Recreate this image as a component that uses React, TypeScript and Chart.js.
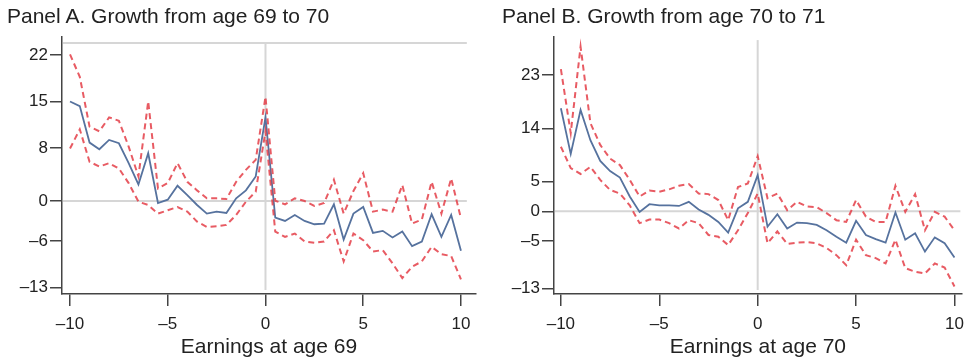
import React, { useEffect, useRef } from "react";
import { Chart, registerables } from "chart.js";

Chart.register(...registerables);

const FONT = "'Liberation Sans', Helvetica, Arial, sans-serif";

// Bin positions (earnings relative to threshold)
const xBins = [
  -10, -9.5, -9, -8.5, -8, -7.5, -7, -6.5, -6, -5.5, -5, -4.5, -4, -3.5, -3, -2.5, -2, -1.5, -1, -0.5,
  0, 0.5, 1, 1.5, 2, 2.5, 3, 3.5, 4, 4.5, 5, 5.5, 6, 6.5, 7, 7.5, 8, 8.5, 9, 9.5, 10,
];

// Panel A: growth from age 69 to 70
const estA = [
  15.0, 14.3, 8.8, 7.8, 9.2, 8.7, 5.7, 2.5, 7.2, -0.3, 0.2, 2.3, 0.9, -0.6, -1.9, -1.6, -1.8, 0.4, 1.6, 3.7,
  12.6, -2.5, -3.0, -2.1, -3.0, -3.5, -3.4, -0.5, -5.8, -1.9, -0.9, -4.8, -4.5, -5.5, -4.6, -6.8, -6.1, -2.0, -5.4, -2.1, -7.5,
];
const upperA = [
  22.1, 18.7, 11.2, 10.5, 12.6, 12.1, 8.2, 3.7, 15.0, 1.9, 2.7, 5.7, 2.9, 1.6, 0.4, 0.4, 0.3, 2.9, 4.7, 6.2,
  15.7, 0.05, -0.5, 0.4, 0.0, -0.75, -0.3, 3.2, -1.9, 1.5, 4.2, -1.6, -1.3, -1.6, 2.4, -3.4, -2.8, 2.9, -1.9, 3.4, -2.6,
];
const lowerA = [
  7.9, 10.8, 5.9, 5.2, 5.7, 4.9, 2.7, -0.1, -0.6, -1.9, -1.4, -0.9, -1.6, -3.1, -3.9, -3.8, -3.6, -2.1, -0.1, 1.4,
  10.5, -4.6, -5.4, -4.9, -6.1, -6.3, -6.1, -4.4, -9.1, -4.9, -5.9, -7.6, -7.4, -9.4, -11.6, -9.9, -9.1, -6.9, -8.0, -8.3, -11.8,
];

// Panel B: growth from age 70 to 71
const estB = [
  17.4, 9.7, 17.1, 12.0, 8.5, 6.8, 5.7, 2.5, -0.1, 1.2, 1.0, 1.0, 0.9, 1.6, 0.3, -0.6, -1.8, -3.6, 0.5, 1.6,
  6.1, -2.6, -0.5, -2.9, -1.9, -2.0, -2.3, -3.2, -4.3, -5.3, -1.6, -4.0, -4.7, -5.3, -0.2, -4.8, -3.7, -6.8, -4.4, -5.4, -7.8,
];
const upperB = [
  24.0, 13.2, 27.8, 14.9, 11.2, 8.9, 7.8, 5.3, 2.5, 3.5, 3.3, 3.7, 4.3, 4.6, 3.0, 2.9, 1.9, -1.5, 4.1, 4.7,
  9.3, 2.2, 3.0, 0.2, 1.6, 0.8, 0.7, -0.3, -1.5, -1.8, 1.9, -0.9, -1.8, -1.8, 4.3, -0.1, 2.9, -3.2, -0.1, -0.9, -3.2,
];
const lowerB = [
  10.9, 7.3, 6.3, 7.5, 5.3, 3.6, 3.0, 1.0, -2.0, -1.4, -1.4, -2.0, -2.9, -1.5, -2.0, -4.0, -4.3, -5.7, -3.2, -0.3,
  3.0, -5.4, -3.4, -5.5, -5.3, -5.2, -5.4, -6.2, -7.4, -9.1, -4.8, -7.4, -7.9, -8.8, -4.8, -9.6, -10.2, -10.5, -8.8, -9.5, -12.7,
];

const xTicks = [-10, -5, 0, 5, 10];
const yTicksA = [22, 15, 8, 0, -6, -13];
const yTicksB = [23, 14, 5, 0, -5, -13];

const titleA = "Panel A. Growth from age 69 to 70";
const titleB = "Panel B. Growth from age 70 to 71";
const xTitleA = "Earnings at age 69";
const xTitleB = "Earnings at age 70";

const fmt = (v: number) => (v < 0 ? "\u2013" + Math.abs(v) : String(v));

const refLines = {
  id: "refLines",
  beforeDatasetsDraw(chart: any, _args: any, opts: any) {
    const { ctx, chartArea, scales } = chart;
    const x = scales.x;
    const y = scales.y;
    ctx.save();
    ctx.strokeStyle = "#d6d6d6";
    ctx.lineWidth = 2;
    const y0 = y.getPixelForValue(0);
    const xr = x.getPixelForValue(opts.right);
    ctx.beginPath();
    ctx.moveTo(chartArea.left + 1, y0);
    ctx.lineTo(xr, y0);
    ctx.stroke();
    const x0 = x.getPixelForValue(0);
    const yt = y.getPixelForValue(opts.top);
    ctx.beginPath();
    ctx.moveTo(x0, yt);
    ctx.lineTo(x0, chartArea.bottom - 4);
    ctx.stroke();
    if (opts.drawTop) {
      ctx.beginPath();
      ctx.moveTo(chartArea.left + 1, yt);
      ctx.lineTo(xr, yt);
      ctx.stroke();
    }
    ctx.restore();
  },
};

type PanelProps = {
  est: number[];
  upper: number[];
  lower: number[];
  yTicks: number[];
  yMin: number;
  yMax: number;
  xMin: number;
  xMax: number;
  yAxisWidth: number;
  padRight: number;
  xTitle: string;
  topVal: number;
  drawTop: boolean;
};

function Panel(p: PanelProps) {
  const ref = useRef<HTMLCanvasElement | null>(null);
  useEffect(() => {
    if (!ref.current) return;
    const pts = (arr: number[]) => xBins.map((x, i) => ({ x, y: arr[i] }));
    const red = "rgba(228, 62, 72, 0.85)";
    const chart = new Chart(ref.current, {
      type: "line",
      data: {
        datasets: [
          {
            data: pts(p.upper),
            borderColor: red,
            borderWidth: 2,
            borderDash: [6, 4],
            pointRadius: 0,
            tension: 0,
          },
          {
            data: pts(p.lower),
            borderColor: red,
            borderWidth: 2,
            borderDash: [6, 4],
            pointRadius: 0,
            tension: 0,
          },
          {
            data: pts(p.est),
            borderColor: "#56729e",
            borderWidth: 1.8,
            pointRadius: 0,
            tension: 0,
          },
        ],
      },
      options: {
        responsive: false,
        animation: false,
        layout: { padding: { left: 0, top: 37, right: p.padRight, bottom: 0 } },
        plugins: {
          legend: { display: false },
          tooltip: { enabled: false },
          title: { display: false },
          refLines: { top: p.topVal, right: 10.3, drawTop: p.drawTop },
        } as any,
        scales: {
          x: {
            type: "linear",
            min: p.xMin,
            max: p.xMax,
            afterBuildTicks: (s: any) => {
              s.ticks = xTicks.map((v) => ({ value: v }));
            },
            afterFit: (s: any) => {
              s.height = 69;
            },
            ticks: {
              callback: (v: any) => fmt(Number(v)),
              font: { family: FONT, size: 17 },
              color: "#222",
              padding: 8,
              maxRotation: 0,
            },
            grid: {
              drawOnChartArea: false,
              drawTicks: true,
              tickLength: 12,
              color: "#444",
              lineWidth: 1.5,
            },
            border: { display: true, color: "#444", width: 1.5 },
            title: {
              display: true,
              text: p.xTitle,
              font: { family: FONT, size: 21, lineHeight: 1 },
              color: "#222",
              padding: { top: 0, bottom: 5 },
            },
          },
          y: {
            type: "linear",
            min: p.yMin,
            max: p.yMax,
            afterBuildTicks: (s: any) => {
              s.ticks = p.yTicks.map((v) => ({ value: v }));
            },
            afterFit: (s: any) => {
              s.width = p.yAxisWidth;
            },
            ticks: {
              callback: (v: any) => fmt(Number(v)),
              font: { family: FONT, size: 17 },
              color: "#222",
              padding: 2,
            },
            grid: {
              drawOnChartArea: false,
              drawTicks: true,
              tickLength: 12,
              color: "#444",
              lineWidth: 1.5,
            },
            border: { display: true, color: "#444", width: 1.5 },
          },
        },
      },
      plugins: [refLines],
    } as any);
    return () => chart.destroy();
  }, []);
  return <canvas ref={ref} width={486} height={363} style={{ width: 486, height: 363, display: "block" }} />;
}

const titleStyle: React.CSSProperties = {
  position: "absolute",
  top: 5,
  fontFamily: FONT,
  fontSize: 21,
  lineHeight: "21px",
  color: "#222",
  whiteSpace: "nowrap",
};

export default function App() {
  return (
    <div style={{ position: "fixed", left: 0, top: 0, width: 972, height: 363, background: "#fff", overflow: "hidden" }}>
      <div style={{ position: "absolute", left: 0, top: 0 }}>
        <Panel
          est={estA}
          upper={upperA}
          lower={lowerA}
          yTicks={yTicksA}
          yMin={-14.01}
          yMax={24.71}
          xMin={-10.41}
          xMax={10.77}
          yAxisWidth={62}
          padRight={10}
          xTitle={xTitleA}
          topVal={23.8}
          drawTop={true}
        />
      </div>
      <div style={{ position: "absolute", left: 486, top: 0 }}>
        <Panel
          est={estB}
          upper={upperB}
          lower={lowerB}
          yTicks={yTicksB}
          yMin={-13.96}
          yMax={29.42}
          xMin={-10.35}
          xMax={10.37}
          yAxisWidth={68}
          padRight={4}
          xTitle={xTitleB}
          topVal={28.9}
          drawTop={false}
        />
      </div>
      <div style={{ ...titleStyle, left: 7 }}>{titleA}</div>
      <div style={{ ...titleStyle, left: 502 }}>{titleB}</div>
    </div>
  );
}
